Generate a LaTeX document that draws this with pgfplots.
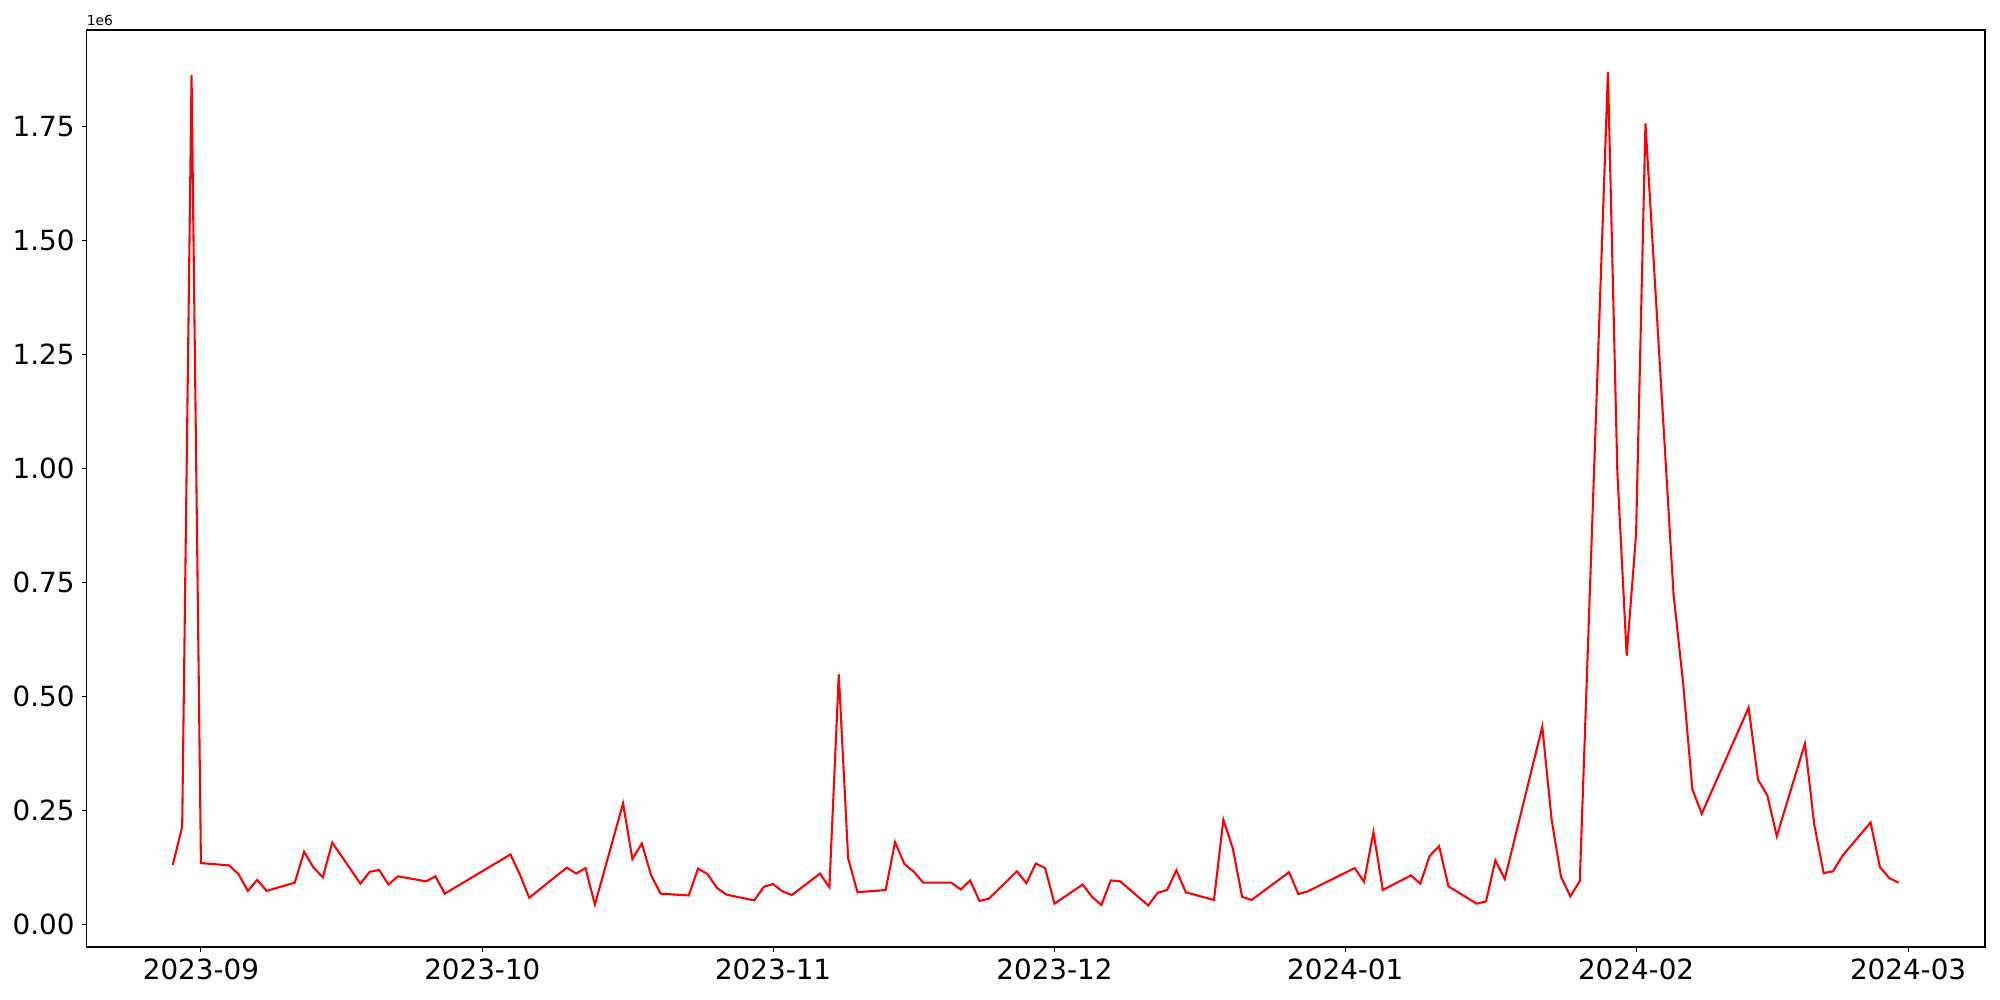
\documentclass[border=0pt]{standalone}
\usepackage{fontspec}
\setmainfont{DejaVu Sans}
\usepackage{pgfplots}
\usepackage{pgfplotstable}
\pgfplotsset{compat=1.18}
\usepgfplotslibrary{dateplot}

\pgfplotstableread{
date value
2023-08-29 130000
2023-08-30 214000
2023-08-31 1862000
2023-09-01 134000
2023-09-04 129000
2023-09-05 110000
2023-09-06 73000
2023-09-07 97000
2023-09-08 73000
2023-09-11 91000
2023-09-12 159000
2023-09-13 124000
2023-09-14 103000
2023-09-15 179000
2023-09-18 89000
2023-09-19 115000
2023-09-20 119000
2023-09-21 87000
2023-09-22 105000
2023-09-25 94000
2023-09-26 105000
2023-09-27 67000
2023-10-04 153000
2023-10-05 109000
2023-10-06 58000
2023-10-10 124000
2023-10-11 111000
2023-10-12 123000
2023-10-13 43000
2023-10-16 265000
2023-10-17 143000
2023-10-18 177000
2023-10-19 107000
2023-10-20 67000
2023-10-23 63000
2023-10-24 122000
2023-10-25 110000
2023-10-26 80000
2023-10-27 65000
2023-10-30 52000
2023-10-31 82000
2023-11-01 88000
2023-11-02 72000
2023-11-03 64000
2023-11-06 111000
2023-11-07 81000
2023-11-08 548000
2023-11-09 144000
2023-11-10 70000
2023-11-13 75000
2023-11-14 180000
2023-11-15 132000
2023-11-16 115000
2023-11-17 91000
2023-11-20 91000
2023-11-21 76000
2023-11-22 96000
2023-11-23 51000
2023-11-24 56000
2023-11-27 116000
2023-11-28 90000
2023-11-29 133000
2023-11-30 123000
2023-12-01 45000
2023-12-04 87000
2023-12-05 60000
2023-12-06 42000
2023-12-07 96000
2023-12-08 94000
2023-12-11 41000
2023-12-12 69000
2023-12-13 75000
2023-12-14 118000
2023-12-15 70000
2023-12-18 53000
2023-12-19 229000
2023-12-20 167000
2023-12-21 60000
2023-12-22 53000
2023-12-26 114000
2023-12-27 66000
2023-12-28 72000
2024-01-02 123000
2024-01-03 93000
2024-01-04 202000
2024-01-05 75000
2024-01-08 107000
2024-01-09 89000
2024-01-10 150000
2024-01-11 171000
2024-01-12 83000
2024-01-15 45000
2024-01-16 50000
2024-01-17 140000
2024-01-18 99000
2024-01-22 433000
2024-01-23 229000
2024-01-24 104000
2024-01-25 61000
2024-01-26 95000
2024-01-29 1869000
2024-01-30 994000
2024-01-31 589000
2024-02-01 856000
2024-02-02 1756000
2024-02-05 722000
2024-02-06 532000
2024-02-07 296000
2024-02-08 242000
2024-02-13 475000
2024-02-14 317000
2024-02-15 282000
2024-02-16 193000
2024-02-19 396000
2024-02-20 218000
2024-02-21 112000
2024-02-22 116000
2024-02-23 150000
2024-02-26 223000
2024-02-27 125000
2024-02-28 101000
2024-02-29 91000
}\daily

\begin{document}
\begin{tikzpicture}
\useasboundingbox (-43.25pt,-26.5pt) rectangle (956.75pt,473.5pt);
\begin{axis}[
    scale only axis,
    width=949.25pt,
    height=458.5pt,
    clip=false,
    date coordinates in=x,
    enlarge x limits=0.05,
    ymin=-50000, ymax=1961000,
    xtick={2023-09-01,2023-10-01,2023-11-01,2023-12-01,2024-01-01,2024-02-01,2024-03-01},
    xticklabels={2023-09,2023-10,2023-11,2023-12,2024-01,2024-02,2024-03},
    ytick={0,250000,500000,750000,1000000,1250000,1500000,1750000},
    yticklabels={0.00,0.25,0.50,0.75,1.00,1.25,1.50,1.75},
    scaled y ticks=false,
    tick pos=left,
    tick align=outside,
    major tick length=2.43pt,
    axis line style={line width=0.55pt},
    every tick/.style={black, line width=0.55pt},
    tick label style={font=\fontsize{13.9}{16}\selectfont},
    /pgf/number format/assume math mode=true,
]
\addplot[red, line width=1.04pt] table[x=date, y=value] {\daily};
\end{axis}
\node[anchor=south west, inner sep=0pt, font=\fontsize{6.9}{8}\selectfont] at (0pt,460.5pt) {1e6};
\end{tikzpicture}
\end{document}
